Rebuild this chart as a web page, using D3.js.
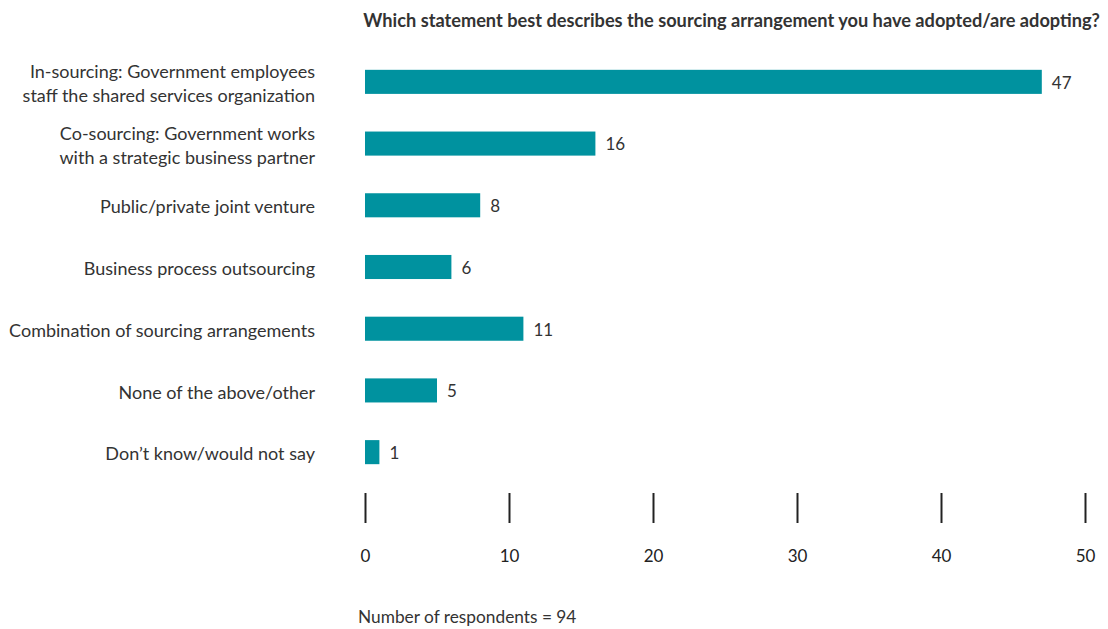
<!DOCTYPE html>
<html>
<head>
<meta charset="utf-8">
<script src="https://cdn.jsdelivr.net/npm/d3@7"></script>
<style>
  body { margin: 0; background: #fff; }
  svg { display: block; font-family: Lato, "Open Sans", sans-serif; }
</style>
</head>
<body>
<div id="main"></div>
<script>
// chart data
var categories = [
    ["In-sourcing: Government employees", "staff the shared services organization"],
    ["Co-sourcing: Government works", "with a strategic business partner"],
    ["Public/private joint venture"],
    ["Business process outsourcing"],
    ["Combination of sourcing arrangements"],
    ["None of the above/other"],
    ["Don\u2019t know/would not say"]
];
var values = [47, 16, 8, 6, 11, 5, 1];
var tickValues = [0, 10, 20, 30, 40, 50];
var title = "Which statement best describes the sourcing arrangement you have adopted/are adopting?";
var footnote = "Number of respondents = 94";

var width = 1108, height = 629;
var barColor = "#00929f", textColor = "#333";

var svg = d3.select("#main").append("svg")
    .attr("width", width)
    .attr("height", height);

var keys = categories.map(function (d, i) { return "c" + i; });

// scales
var xScale = d3.scaleLinear().domain([0, 50]).range([365, 1085]);
var yScale = d3.scaleBand()
    .domain(keys)
    .range([51, 483])
    .paddingInner(0.61)
    .paddingOuter(0.305);

// title
svg.append("text")
    .attr("x", 1100)
    .attr("y", 27)
    .attr("text-anchor", "end")
    .attr("font-weight", "bold")
    .attr("font-size", 18.2)
    .attr("fill", textColor)
    .text(title);

// bars
svg.selectAll("rect.bar")
    .data(values)
    .enter()
    .append("rect")
    .attr("class", "bar")
    .attr("x", xScale(0))
    .attr("y", function (d, i) { return yScale(keys[i]); })
    .attr("width", function (d) { return xScale(d) - xScale(0); })
    .attr("height", yScale.bandwidth())
    .attr("fill", barColor);

// value labels
svg.selectAll("text.val")
    .data(values)
    .enter()
    .append("text")
    .attr("class", "val")
    .attr("x", function (d) { return xScale(d) + 10; })
    .attr("y", function (d, i) { return yScale(keys[i]) + yScale.bandwidth() / 2; })
    .attr("dy", "0.4em")
    .attr("font-size", 17)
    .attr("fill", textColor)
    .text(function (d) { return d; });

// category labels
var lab = svg.selectAll("text.cat")
    .data(categories)
    .enter()
    .append("text")
    .attr("class", "cat")
    .attr("text-anchor", "end")
    .attr("font-size", 18)
    .attr("fill", textColor)
    .attr("transform", function (d, i) {
        var cy = yScale(keys[i]) + yScale.bandwidth() / 2;
        return "translate(315," + (cy - (d.length - 1) * 12 + 1) + ")";
    });

lab.selectAll("tspan")
    .data(function (d) { return d; })
    .enter()
    .append("tspan")
    .attr("x", 0)
    .attr("y", function (d, i) { return i * 24; })
    .attr("dy", "0.4em")
    .text(function (d) { return d; });

// x axis: tick lines + labels underneath
var xAxis = d3.axisBottom(xScale)
    .tickValues(tickValues)
    .tickSize(30)
    .tickPadding(27);

var xAxisEl = svg.append("g")
    .attr("transform", "translate(0,493)")
    .call(xAxis);

xAxisEl.select(".domain").remove();
xAxisEl.selectAll(".tick line")
    .attr("stroke", "#222")
    .attr("stroke-width", 2);
xAxisEl.selectAll(".tick text")
    .attr("font-family", "Lato, 'Open Sans', sans-serif")
    .attr("font-size", 17)
    .attr("fill", "#222");

// footnote
svg.append("text")
    .attr("x", 358)
    .attr("y", 617)
    .attr("dy", "0.36em")
    .attr("font-size", 17.3)
    .attr("fill", textColor)
    .text(footnote);
</script>
</body>
</html>
